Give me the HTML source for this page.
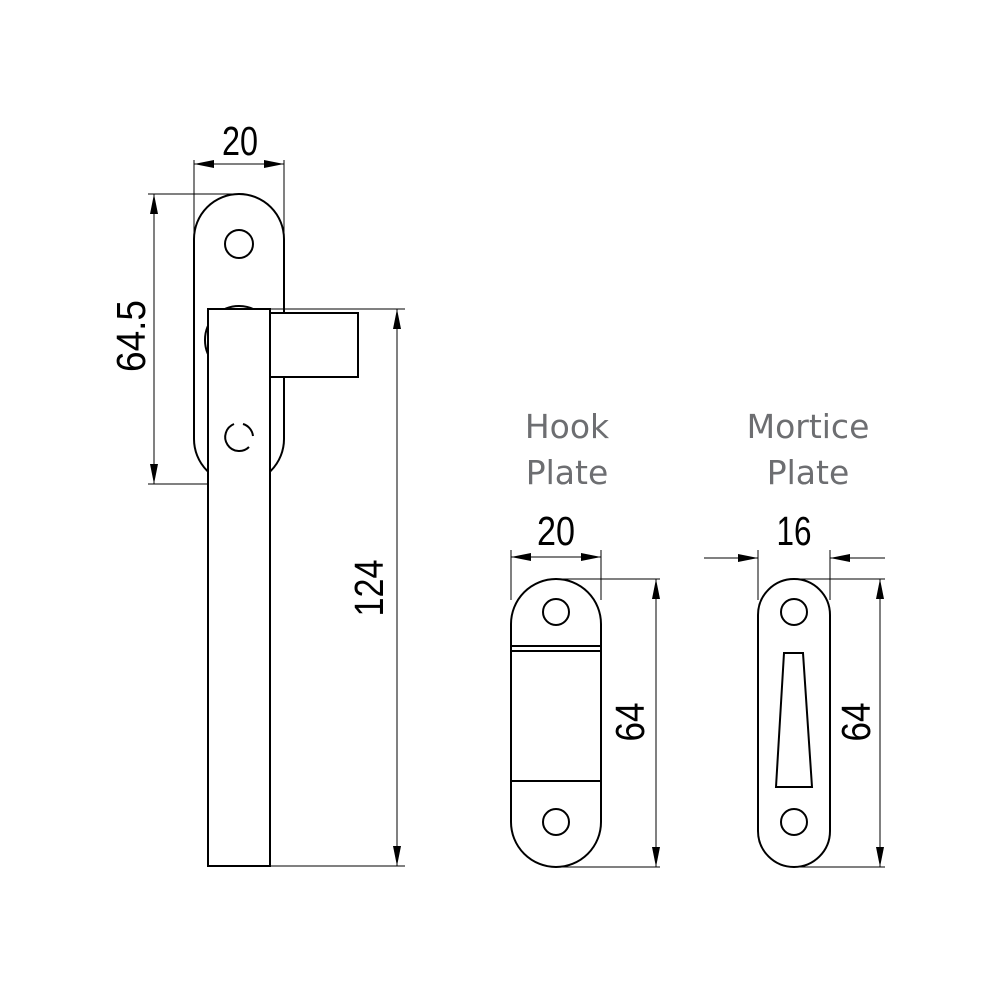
<!DOCTYPE html>
<html><head><style>html,body{margin:0;padding:0;background:#fff}svg{display:block}</style></head>
<body>
<svg width="1000" height="1000" viewBox="0 0 1000 1000" xmlns="http://www.w3.org/2000/svg">
<defs>
<marker id="a" viewBox="0 0 20 8" refX="20" refY="4" markerWidth="20" markerHeight="8" markerUnits="userSpaceOnUse" orient="auto-start-reverse"><path d="M0,0 L20,4 L0,8 Z" fill="#000"/></marker>
</defs>
<g fill="none" stroke="#000" stroke-width="1">
<line x1="194" y1="160" x2="194" y2="240"/>
<line x1="284" y1="160" x2="284" y2="240"/>
<line x1="194" y1="164" x2="284" y2="164" marker-start="url(#a)" marker-end="url(#a)"/>
<line x1="148" y1="194" x2="240" y2="194"/>
<line x1="148" y1="484" x2="237" y2="484"/>
<line x1="154" y1="194" x2="154" y2="484" marker-start="url(#a)" marker-end="url(#a)"/>
<line x1="270" y1="309" x2="405" y2="309"/>
<line x1="270" y1="866" x2="405" y2="866"/>
<line x1="397" y1="309" x2="397" y2="866" marker-start="url(#a)" marker-end="url(#a)"/>
<line x1="511" y1="550" x2="511" y2="600"/>
<line x1="601" y1="550" x2="601" y2="600"/>
<line x1="511" y1="557" x2="601" y2="557" marker-start="url(#a)" marker-end="url(#a)"/>
<line x1="556" y1="579" x2="660" y2="579"/>
<line x1="556" y1="867" x2="660" y2="867"/>
<line x1="656" y1="579" x2="656" y2="867" marker-start="url(#a)" marker-end="url(#a)"/>
<line x1="758" y1="550" x2="758" y2="600"/>
<line x1="830" y1="550" x2="830" y2="600"/>
<line x1="704" y1="558" x2="758" y2="558" marker-end="url(#a)"/>
<line x1="885" y1="558" x2="830" y2="558" marker-end="url(#a)"/>
<line x1="794" y1="579" x2="885" y2="579"/>
<line x1="794" y1="867" x2="885" y2="867"/>
<line x1="880" y1="579" x2="880" y2="867" marker-start="url(#a)" marker-end="url(#a)"/>
</g>
<g fill="none" stroke="#000" stroke-width="2">
<rect x="194" y="194" width="90" height="290" rx="45" ry="45"/>
<circle cx="239" cy="244" r="14"/>
<circle cx="239" cy="340" r="34"/>
<rect x="208" y="309" width="62" height="557" fill="#fff"/>
<rect x="270" y="313" width="88" height="64" fill="#fff"/>
<path d="M243,424 A14,14 0 0 1 253,436"/>
<path d="M249,447 A14,14 0 1 1 234,424"/>
<rect x="511" y="579" width="90" height="288" rx="45" ry="45"/>
<circle cx="556" cy="612" r="13"/>
<circle cx="556" cy="822" r="13"/>
<line x1="511" y1="646" x2="601" y2="646"/>
<line x1="511" y1="651" x2="601" y2="651"/>
<line x1="511" y1="781" x2="601" y2="781"/>
<rect x="758" y="579" width="72" height="288" rx="36" ry="36"/>
<circle cx="794" cy="612" r="13"/>
<circle cx="794" cy="822" r="13"/>
<polygon points="784,653 803,653 812,787 776,787"/>
</g>
<g font-family="'Liberation Sans', 'DejaVu Sans', sans-serif" font-size="41" fill="#000" text-anchor="middle" lengthAdjust="spacingAndGlyphs">
<text x="240" y="155" textLength="36" lengthAdjust="spacingAndGlyphs">20</text>
<text transform="translate(145,336) rotate(-90)" textLength="72" lengthAdjust="spacingAndGlyphs">64.5</text>
<text transform="translate(383,588) rotate(-90)" textLength="57" lengthAdjust="spacingAndGlyphs">124</text>
<text x="556" y="545" textLength="38" lengthAdjust="spacingAndGlyphs">20</text>
<text transform="translate(644,722) rotate(-90)" textLength="39" lengthAdjust="spacingAndGlyphs">64</text>
<text x="794" y="545" textLength="35" lengthAdjust="spacingAndGlyphs">16</text>
<text transform="translate(870,722) rotate(-90)" textLength="39" lengthAdjust="spacingAndGlyphs">64</text>
</g>
<g font-family="'DejaVu Sans', 'Liberation Sans', sans-serif" font-size="33" fill="#6d6e71" text-anchor="middle">
<text x="567" y="438">Hook</text>
<text x="567" y="484">Plate</text>
<text x="808" y="438">Mortice</text>
<text x="808" y="484">Plate</text>
</g>
</svg>
</body></html>
